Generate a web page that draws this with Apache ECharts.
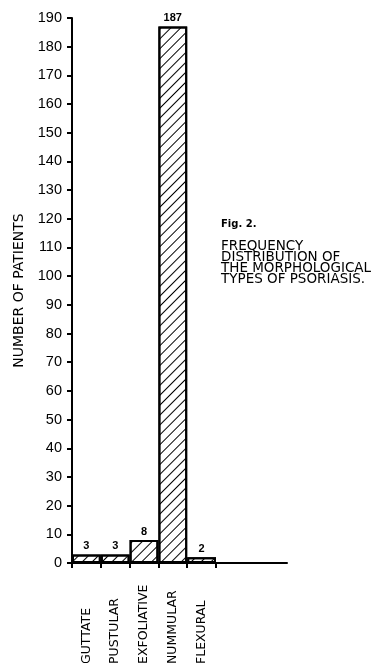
<!DOCTYPE html>
<html>
<head>
<meta charset="utf-8">
<script src="https://cdn.jsdelivr.net/npm/echarts@6/dist/echarts.min.js"></script>
<style>
  html, body { margin: 0; padding: 0; background: #fff; }
  #chart { width: 385px; height: 663px; }
</style>
</head>
<body>
<div id="chart"></div>
<script>
  // morphological types of psoriasis and number of patients
  var types = ['GUTTATE', 'PUSTULAR', 'EXFOLIATIVE', 'NUMMULAR', 'FLEXURAL'];
  var patients = [3, 3, 8, 187, 2];
  var yMax = 190;
  var yStep = 10;

  var font = '"DejaVu Sans", "Liberation Sans", sans-serif';
  var numFont = '"Liberation Sans", Arial, sans-serif';
  var chart = echarts.init(document.getElementById('chart'));

  chart.setOption({
    backgroundColor: '#fff',
    animation: false,
    grid: [{
      left: 72,
      top: 18,
      bottom: 100,
      width: 144,
      outerBoundsMode: 'none'
    }, {
      // empty stretch where the baseline carries on past the last bar
      left: 216,
      top: 18,
      bottom: 100,
      width: 71,
      outerBoundsMode: 'none'
    }],
    xAxis: [{
      type: 'category',
      data: types,
      boundaryGap: true,
      axisLine: { lineStyle: { color: '#000', width: 2 } },
      axisTick: { show: true, length: 5, lineStyle: { color: '#000', width: 2 } },
      axisLabel: {
        rotate: 90,
        align: 'left',
        margin: 101,
        interval: 0,
        color: '#000',
        fontFamily: font,
        fontSize: 12.5
      }
    }, {
      gridIndex: 1,
      type: 'value',
      min: 0,
      max: 1,
      axisLine: { show: true, lineStyle: { color: '#000', width: 2 } },
      axisTick: { show: false },
      axisLabel: { show: false },
      splitLine: { show: false }
    }],
    yAxis: [{
      type: 'value',
      min: 0,
      max: yMax,
      interval: yStep,
      name: 'NUMBER OF PATIENTS',
      nameLocation: 'middle',
      nameGap: 46,
      nameTextStyle: { color: '#000', fontFamily: font, fontSize: 14 },
      axisLine: { show: true, lineStyle: { color: '#000', width: 2 } },
      axisTick: { show: true, length: 5, lineStyle: { color: '#000', width: 2 } },
      splitLine: { show: false },
      axisLabel: {
        color: '#000',
        fontFamily: numFont,
        fontSize: 14.5,
        margin: 10
      }
    }, {
      gridIndex: 1,
      type: 'value',
      min: 0,
      max: yMax,
      show: false
    }],
    series: [{
      type: 'bar',
      data: patients,
      barCategoryGap: 0,
      itemStyle: {
        color: '#fff',
        borderColor: '#000',
        borderWidth: 2,
        decal: {
          symbol: 'rect',
          symbolSize: 1,
          color: '#000',
          dashArrayX: [1, 0],
          dashArrayY: [1, 6],
          rotation: -Math.PI / 4
        }
      },
      label: {
        show: true,
        position: 'top',
        distance: 3,
        color: '#000',
        fontFamily: numFont,
        fontSize: 11,
        fontWeight: 'bold'
      }
    }],
    graphic: [{
      type: 'text',
      left: 221,
      top: 219,
      style: {
        text: 'Fig. 2.',
        fill: '#000',
        font: 'bold 10px ' + font
      }
    }, {
      type: 'text',
      left: 221,
      top: 239,
      style: {
        text: 'FREQUENCY\nDISTRIBUTION OF\nTHE MORPHOLOGICAL\nTYPES OF PSORIASIS.',
        fill: '#000',
        font: '13.5px ' + font,
        lineHeight: 11
      }
    }]
  });
</script>
</body>
</html>
